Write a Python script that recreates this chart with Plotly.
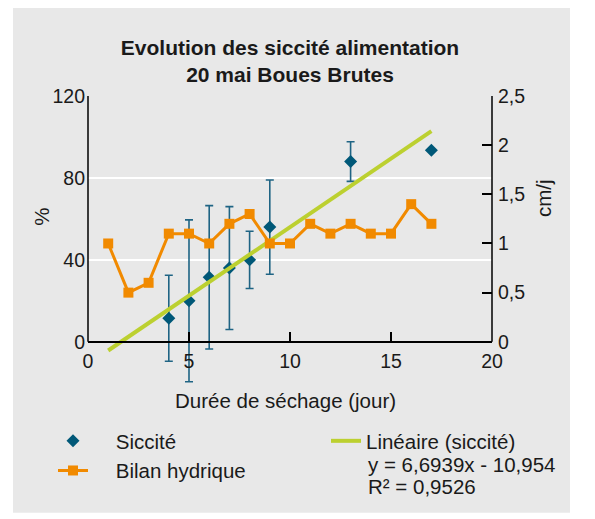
import plotly.graph_objects as go

# ---- data ----
days_siccite = [4, 5, 6, 7, 8, 9, 13, 17]
siccite = [11.5, 20, 31.5, 36, 40, 56, 88, 93.5]
siccite_err = [21, 39.5, 35, 30, 14, 23, 9.7, None]

days_bilan = list(range(1, 18))
bilan = [1.0, 0.5, 0.6, 1.1, 1.1, 1.0, 1.2, 1.3, 1.0, 1.0, 1.2, 1.1, 1.2, 1.1, 1.1, 1.4, 1.2]

trend_slope = 6.6939
trend_intercept = -10.954
trend_days = [1, 17]
trend_vals = [trend_slope * d + trend_intercept for d in trend_days]
trend_label = "Linéaire (siccité)"
trend_equation = ["y = 6,6939x - 10,954", "R² = 0,9526"]

x_ticks = [0, 5, 10, 15, 20]
y_ticks = [0, 40, 80, 120]
y2_ticks = [0, 0.5, 1, 1.5, 2, 2.5]
y2_ticklabels = ["0", "0,5", "1", "1,5", "2", "2,5"]

BG = "#e8e8e8"
FONT = "Liberation Sans, Arial, sans-serif"
TXT = "#1a1a1a"
FS = 20.5      # legend / axis titles
FT = 19.5      # tick labels
Y_LOW = -25
Y2_LOW = Y_LOW / 48.0
PAD = "\u00a0" * 4

# plot-area geometry (figure pixels)
L, R, T, BOT = 80, 484, 88, 385.25
PW, PH = R - L, BOT - T


def px(xpix):
    return (xpix - L) / PW


def py(ypix):
    return (BOT - ypix) / PH


fig = go.Figure()

fig.add_trace(go.Scatter(
    x=days_siccite, y=siccite, mode="markers", name=PAD + "Siccité",
    marker=dict(symbol="diamond", size=10, color="#005878"),
    error_y=dict(type="data", array=siccite_err, visible=True,
                 color="#1f6484", thickness=1.6, width=4),
    legend="legend", legendgroup="a",
))
fig.add_trace(go.Scatter(
    x=days_bilan, y=bilan, mode="lines+markers", name=PAD + "Bilan hydrique",
    yaxis="y2",
    line=dict(color="#f18a00", width=3),
    marker=dict(symbol="square", size=10, color="#f18a00"),
    legend="legend", legendgroup="b",
))
fig.add_trace(go.Scatter(
    x=trend_days, y=trend_vals, mode="lines",
    name=trend_label,
    line=dict(color="#bcd030", width=4),
    legend="legend2",
))

fig.update_layout(
    width=595, height=519,
    margin=dict(l=L, r=595 - R, t=T, b=519 - BOT, autoexpand=False),
    paper_bgcolor="white", plot_bgcolor=BG,
    font=dict(family=FONT, size=FS, color=TXT),
    title=dict(text="<b>Evolution des siccité alimentation<br>20 mai Boues Brutes</b>",
               x=0.5, xref="paper", xanchor="center",
               y=1 - 46.5 / 519, yref="container", yanchor="middle",
               font=dict(size=21, color=TXT)),
    xaxis=dict(range=[0, 20], tickvals=x_ticks, ticks="inside", ticklen=9,
               tickcolor="black", tickwidth=1.5, ticklabelstandoff=2,
               tickfont=dict(size=FT),
               showline=True, linecolor="black", linewidth=1.5,
               showgrid=False, zeroline=False,
               anchor="free", position=-Y_LOW / (120 - Y_LOW)),
    yaxis=dict(range=[Y_LOW, 120], tickvals=y_ticks, ticks="",
               ticklabelstandoff=2, tickfont=dict(size=FT),
               showline=False, showgrid=True, gridcolor="white", gridwidth=1.5,
               zeroline=False),
    yaxis2=dict(range=[Y2_LOW, 2.5], tickvals=y2_ticks, ticktext=y2_ticklabels,
                overlaying="y", side="right", ticks="inside", ticklen=10,
                tickcolor="black", tickwidth=1.5, ticklabelstandoff=5,
                tickfont=dict(size=FT), showline=False,
                showgrid=False, zeroline=False),
    legend=dict(x=45 / 595, xref="container", xanchor="left",
                y=1 - 413 / 519, yref="container", yanchor="top",
                bgcolor="rgba(0,0,0,0)",
                traceorder="grouped", tracegroupgap=0,
                font=dict(size=FS)),
    legend2=dict(x=318 / 595, xref="container", xanchor="left",
                 y=1 - 413 / 519, yref="container", yanchor="top",
                 bgcolor="rgba(0,0,0,0)",
                 font=dict(size=FS)),
    shapes=[
        dict(type="rect", xref="paper", yref="paper", layer="below",
             x0=px(5), x1=px(562), y0=py(505), y1=py(-2),
             fillcolor=BG, line=dict(width=0)),
        dict(type="line", xref="paper", yref="y", x0=0, x1=0, y0=0, y1=120,
             line=dict(color="black", width=1.5)),
        dict(type="line", xref="paper", yref="y", x0=1, x1=1, y0=0, y1=120,
             line=dict(color="black", width=1.5)),
    ],
    annotations=[
        dict(text="%", xref="paper", yref="y", x=px(34), y=61,
             xanchor="center", yanchor="middle",
             showarrow=False, textangle=-90, font=dict(size=FS)),
        dict(text="cm/j", xref="paper", yref="y", x=px(535), y=70.2,
             xanchor="center", yanchor="middle",
             showarrow=False, textangle=-90, font=dict(size=FS)),
        dict(text="Durée de séchage (jour)", xref="paper", yref="paper",
             x=px(277.5), y=py(393), xanchor="center", yanchor="middle",
             showarrow=False, font=dict(size=FS)),
        dict(text=trend_equation[0], xref="paper", yref="paper",
             x=px(358), y=py(457.2), xanchor="left", yanchor="middle",
             showarrow=False, font=dict(size=FS)),
        dict(text=trend_equation[1], xref="paper", yref="paper",
             x=px(358), y=py(478.7), xanchor="left", yanchor="middle",
             showarrow=False, font=dict(size=FS)),
    ],
)

fig.write_html("out.html")
